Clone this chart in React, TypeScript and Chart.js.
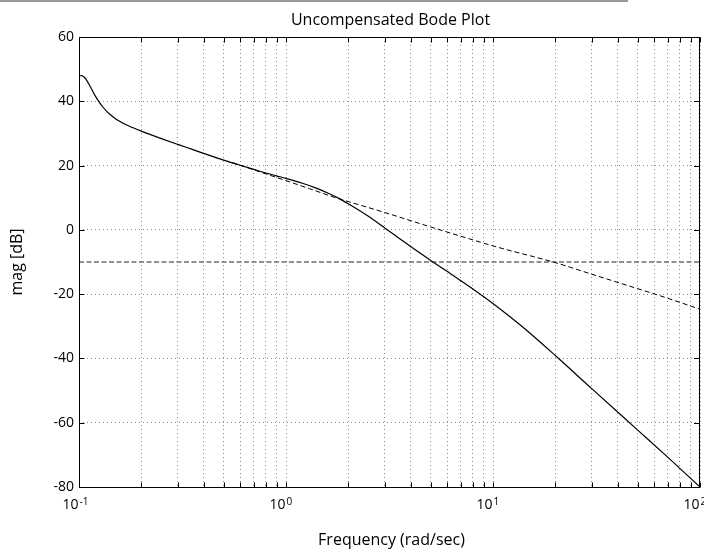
import React, { useEffect, useRef } from 'react';
import { Chart, registerables } from 'chart.js';

Chart.register(...registerables);

// ---- data ----
const SOLID_FREQ = [0.1, 0.101, 0.103, 0.105, 0.108, 0.111, 0.115, 0.12, 0.125, 0.13, 0.135, 0.14, 0.15, 0.16, 0.17, 0.18, 0.2, 0.22, 0.25, 0.3, 0.35, 0.4, 0.5, 0.6, 0.7, 0.8, 0.9, 1.0, 1.2, 1.4, 1.6, 1.8, 2.0, 2.5, 3.0, 3.5, 4.0, 5.0, 6.0, 7.0, 8.0, 10, 12, 15, 20, 30, 50, 70, 100];
const SOLID_MAG = [47.8, 47.95, 48.0, 47.7, 46.9, 45.6, 43.8, 41.6, 39.8, 38.3, 37.1, 36.1, 34.6, 33.5, 32.6, 31.9, 30.7, 29.7, 28.4, 26.6, 25.1, 23.8, 21.7, 20.1, 18.8, 17.7, 16.8, 16.0, 14.5, 13.0, 11.4, 9.8, 8.1, 4.2, 0.6, -2.5, -5.2, -9.5, -12.9, -15.8, -18.4, -22.9, -26.9, -32.0, -39.1, -49.4, -62.3, -70.8, -80.0];

const DASHED_FREQ = [0.55, 0.6, 0.8, 1.0, 1.3, 1.7, 2.0, 3.0, 5.0, 7.7, 10, 20, 30, 50, 70, 100];
const DASHED_MAG = [20.9, 20.1, 17.4, 15.3, 12.8, 10.2, 8.8, 5.4, 0.9, -2.8, -5.0, -10.2, -13.8, -18.3, -21.3, -24.7];

const REF_FREQ = [0.1, 100];
const REF_MAG = [-10, -10];

const X_TICKS = [0.1, 0.2, 0.3, 0.4, 0.5, 0.6, 0.7, 0.8, 0.9, 1, 2, 3, 4, 5, 6, 7, 8, 9, 10, 20, 30, 40, 50, 60, 70, 80, 90, 100];
const X_MAJOR = [0.1, 1, 10, 100];
const X_EXP = ['-1', '0', '1', '2'];
const X_MIN = 0.1;
const X_MAX = 100;
const Y_MIN = -80;
const Y_MAX = 60;
const Y_STEP = 20;

const TITLE = 'Uncompensated Bode Plot';
const X_TITLE = 'Frequency (rad/sec)';
const Y_TITLE = 'mag [dB]';

const FONT = "'Open Sans', sans-serif";

const toPoints = (xs: number[], ys: number[]) => xs.map((x, i) => ({ x, y: ys[i] }));

const decor = {
  id: 'bodeDecor',
  beforeDraw(chart: any) {
    const ctx = chart.ctx;
    ctx.save();
    ctx.strokeStyle = '#9a9a9a';
    ctx.lineWidth = 2;
    ctx.beginPath();
    ctx.moveTo(0, 1);
    ctx.lineTo(628, 1);
    ctx.stroke();
    ctx.restore();
  },
  afterDraw(chart: any) {
    const ctx = chart.ctx;
    const { left, right, top, bottom } = chart.chartArea;
    const xs = chart.scales.x;
    const ys = chart.scales.y;
    ctx.save();
    // box
    ctx.strokeStyle = '#000';
    ctx.lineWidth = 1;
    ctx.setLineDash([]);
    ctx.strokeRect(left + 0.5, top + 0.5, right - left - 1, bottom - top);
    // ticks
    ctx.beginPath();
    X_TICKS.forEach((v) => {
      const px = Math.round(xs.getPixelForValue(v)) + 0.5;
      ctx.moveTo(px, bottom + 0.5);
      ctx.lineTo(px, bottom - 4.5);
      ctx.moveTo(px, top + 0.5);
      ctx.lineTo(px, top + 5.5);
    });
    for (let v = Y_MIN; v <= Y_MAX; v += Y_STEP) {
      const py = Math.round(ys.getPixelForValue(v)) + 0.5;
      ctx.moveTo(left, py);
      ctx.lineTo(left + 5.5, py);
      ctx.moveTo(right - 0.5, py);
      ctx.lineTo(right - 6, py);
    }
    ctx.stroke();
    // x tick labels with exponents
    ctx.fillStyle = '#000';
    ctx.textBaseline = 'alphabetic';
    X_MAJOR.forEach((v, i) => {
      const px = xs.getPixelForValue(v);
      ctx.font = `14px ${FONT}`;
      ctx.textAlign = 'right';
      ctx.fillText('10', px - 0.5, 509);
      ctx.font = `10px ${FONT}`;
      ctx.textAlign = 'left';
      ctx.fillText(X_EXP[i], px + 0.5, 504.5);
    });
    // titles
    ctx.font = `16px ${FONT}`;
    ctx.textAlign = 'center';
    ctx.fillText(TITLE, (left + right) / 2 + 1, 24.5);
    ctx.fillText(X_TITLE, (left + right) / 2 + 2, 545);
    ctx.translate(22, (top + bottom) / 2);
    ctx.rotate(-Math.PI / 2);
    ctx.fillText(Y_TITLE, 0, 0);
    ctx.restore();
  },
};

export default function App() {
  const ref = useRef<HTMLCanvasElement | null>(null);
  useEffect(() => {
    if (!ref.current) return;
    const chart = new Chart(ref.current, {
      type: 'line',
      data: {
        datasets: [
          {
            data: toPoints(SOLID_FREQ, SOLID_MAG),
            borderColor: '#000',
            borderWidth: 1.2,
            pointRadius: 0,
            cubicInterpolationMode: 'monotone',
          },
          {
            data: toPoints(DASHED_FREQ, DASHED_MAG),
            borderColor: '#000',
            borderWidth: 1,
            borderDash: [5, 3],
            pointRadius: 0,
            cubicInterpolationMode: 'monotone',
          },
          {
            data: toPoints(REF_FREQ, REF_MAG),
            borderColor: '#6e6e6e',
            borderWidth: 1.6,
            borderDash: [5, 2.5],
            pointRadius: 0,
          },
        ],
      },
      options: {
        responsive: false,
        animation: false,
        devicePixelRatio: 1,
        layout: { autoPadding: false, padding: { left: 0, right: 4, top: 37, bottom: 0 } },
        plugins: { legend: { display: false }, tooltip: { enabled: false }, title: { display: false } },
        scales: {
          x: {
            type: 'logarithmic',
            min: X_MIN,
            max: X_MAX,
            ticks: { display: false },
            grid: { color: '#8c8c8c', lineWidth: 1, drawTicks: false },
            border: { display: false, dash: [1, 3] },
            afterBuildTicks: (s: any) => {
              s.ticks = X_TICKS.map((v) => ({ value: v }));
            },
            afterFit: (s: any) => {
              s.height = 63;
            },
          },
          y: {
            type: 'linear',
            min: Y_MIN,
            max: Y_MAX,
            ticks: { stepSize: Y_STEP, color: '#000', padding: 5, font: { family: FONT, size: 14 } },
            grid: { color: '#8c8c8c', lineWidth: 1, drawTicks: false },
            border: { display: false, dash: [1, 3] },
            afterFit: (s: any) => {
              s.width = 79;
            },
          },
        },
      },
      plugins: [decor],
    } as any);
    return () => chart.destroy();
  }, []);
  return (
    <div style={{ position: 'absolute', left: 0, top: 0, width: 704, height: 550, background: '#fff' }}>
      <canvas ref={ref} width={704} height={550} style={{ display: 'block' }} />
    </div>
  );
}
